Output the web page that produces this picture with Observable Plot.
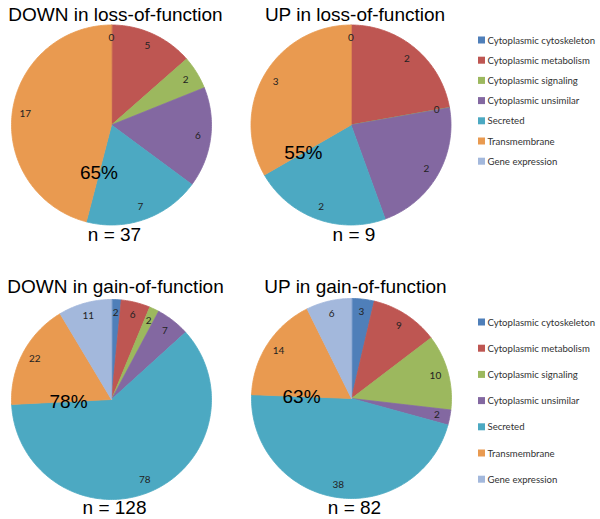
<!DOCTYPE html>
<html><head><meta charset="utf-8">
<script src="https://cdn.jsdelivr.net/npm/d3@7"></script>
<script src="https://cdn.jsdelivr.net/npm/@observablehq/plot@0.6"></script>
<style>body{margin:0;background:#fff}</style>
</head><body><div id="chart"></div>
<script>
// ---- data ----
const categories = ["Cytoplasmic cytoskeleton","Cytoplasmic metabolism","Cytoplasmic signaling","Cytoplasmic unsimilar","Secreted","Transmembrane","Gene expression"];
const colors = ["#4f7fb9","#be5652","#9cb85e","#8368a1","#4ca9c2","#e99a50","#a3b8dc"];
const titles = ["DOWN in loss-of-function","UP in loss-of-function","DOWN in gain-of-function","UP in gain-of-function"];
const downLoss = [0,5,2,6,7,17];
const upLoss = [0,2,0,2,2,3];
const downGain = [2,6,2,7,78,22,11];
const upGain = [3,9,10,2,38,14,6];
const pctLabels = ["65%","55%","78%","63%"];
const nLabels = ["n = 37","n = 9","n = 128","n = 82"];

// ---- layout ----
const R = 100;
const layout = [
  {cx:111, cy:124.5, titleY:14, nY:234.5, pr:0.5},
  {cx:350.5, cy:124.5, titleY:14, nY:234.5, pr:0.55},
  {cx:111, cy:399, titleY:286.5, nY:507.5, pr:0.43},
  {cx:351, cy:398, titleY:286.5, nY:507.5, pr:0.5}
];
const seriesList = [downLoss, upLoss, downGain, upGain];

const slicePts = [], valueLabels = [], pctPts = [], textPts = [];
seriesList.forEach((vals, p) => {
  const {cx, cy} = layout[p];
  const total = d3.sum(vals);
  let cum = 0;
  const pt = (a, rr) => ({x: cx + rr*Math.sin(a), y: cy - rr*Math.cos(a)});
  vals.forEach((v, i) => {
    const a0 = cum/total*2*Math.PI, a1 = (cum+v)/total*2*Math.PI;
    const key = p + "-" + i, cat = categories[i];
    slicePts.push({...pt(0,0), key, cat});
    const n = Math.max(1, Math.ceil((a1-a0)/(Math.PI/180)));
    for (let k = 0; k <= n; k++) slicePts.push({...pt(a0 + (a1-a0)*k/n, R), key, cat});
    const m = (a0+a1)/2;
    valueLabels.push({...pt(m, R*0.87), text: String(v)});
    cum += v;
    if (i === 4) pctPts.push({...pt(a1, R*layout[p].pr), text: pctLabels[p]});
  });
  textPts.push({x: cx+4, y: layout[p].titleY, text: titles[p]});
  textPts.push({x: cx+3, y: layout[p].nY, text: nLabels[p]});
});

const legend = [];
categories.forEach((c, i) => {
  legend.push({cat: c, y: 40 + 20.2*i});
  legend.push({cat: c, y: 322 + 26.2*i});
});

const chart = Plot.plot({
  width: 600, height: 519, margin: 0,
  x: {domain:[0,600], range:[0,600], axis:null},
  y: {domain:[0,519], range:[0,519], axis:null},
  color: {domain: categories, range: colors},
  style: {background:"white", fontFamily:"Liberation Sans, Arial, sans-serif"},
  marks: [
    Plot.line(slicePts, {x:"x", y:"y", z:"key", fill:"cat", stroke:"cat", strokeWidth:0.8, curve:"linear-closed"}),
    Plot.text(valueLabels, {x:"x", y:"y", text:"text", fontSize:10, fill:"#222", fontFamily:"Lato, sans-serif"}),
    Plot.text(pctPts, {x:"x", y:"y", text:"text", fontSize:19, fill:"#000"}),
    Plot.text(textPts, {x:"x", y:"y", text:"text", fontSize:19, fill:"#000"}),
    Plot.rect(legend, {x1: () => 478, x2: () => 485, y1: d => d.y-3.5, y2: d => d.y+3.5, fill:"cat"}),
    Plot.text(legend, {x: () => 487, y:"y", text:"cat", textAnchor:"start", fontSize:9.6, fill:"#333", fontFamily:"Lato, sans-serif"})
  ]
});
document.getElementById("chart").appendChild(chart);
</script>
</body></html>
